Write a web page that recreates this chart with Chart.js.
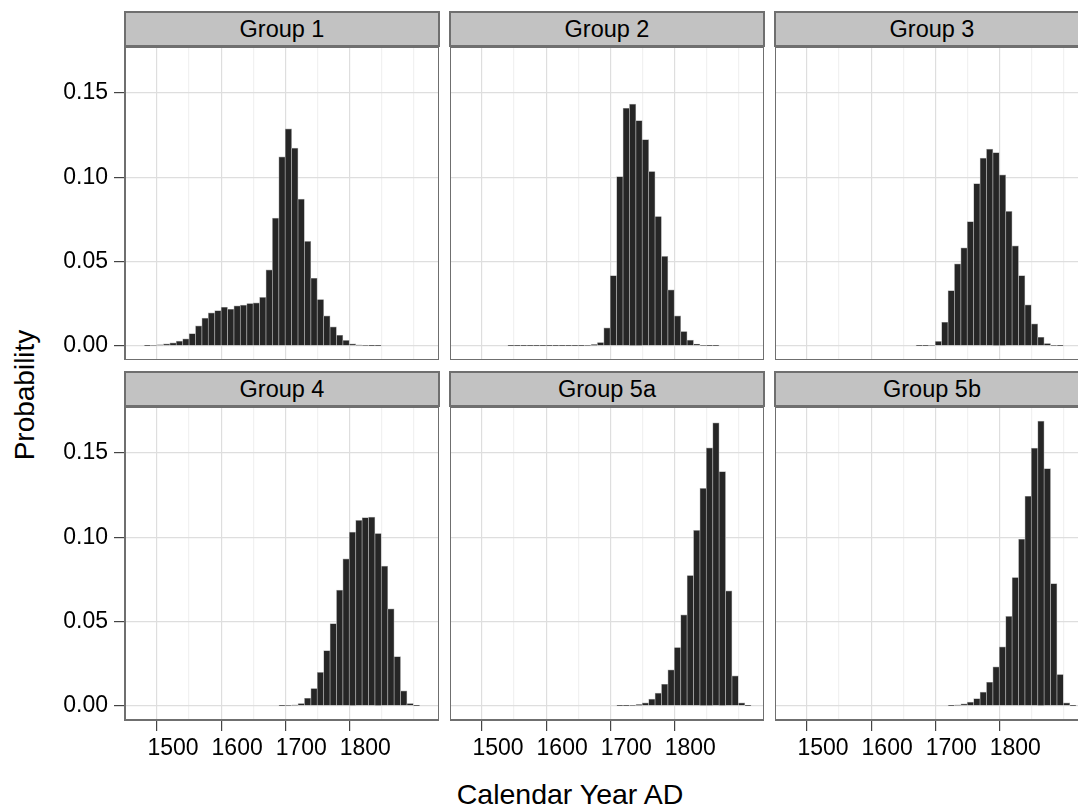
<!DOCTYPE html>
<html>
<head>
<meta charset="utf-8">
<script src="https://cdn.jsdelivr.net/npm/chart.js@4.4.0/dist/chart.umd.min.js"></script>
<style>
  body { margin: 0; width: 1078px; height: 808px; overflow: hidden; background: #fff; position: relative;
         font-family: "Liberation Sans", Arial, sans-serif; color: #000; }
  canvas { position: absolute; }
  .strip { position: absolute; height: 36px; width: 316px; box-sizing: border-box; background: #c2c2c2;
           border: 2px solid #6f6f6f; text-align: center; line-height: 32px; font-size: 23.5px; }
  .ytitle { position: absolute; left: 25px; top: 395px; transform: translate(-50%, -50%) rotate(-90deg);
            font-size: 28px; white-space: nowrap; }
  .xtitle { position: absolute; left: 570px; top: 794px; transform: translate(-50%, -50%);
            font-size: 28.5px; white-space: nowrap; }
</style>
</head>
<body>
<div class="ytitle">Probability</div>
<div class="xtitle">Calendar Year AD</div>

<script>
// bin centres (10-year bins)
const years = [1450, 1460, 1470, 1480, 1490, 1500, 1510, 1520, 1530, 1540,
               1550, 1560, 1570, 1580, 1590, 1600, 1610, 1620, 1630, 1640,
               1650, 1660, 1670, 1680, 1690, 1700, 1710, 1720, 1730, 1740,
               1750, 1760, 1770, 1780, 1790, 1800, 1810, 1820, 1830, 1840,
               1850, 1860, 1870, 1880, 1890];

const groupNames = ['Group 1', 'Group 2', 'Group 3', 'Group 4', 'Group 5a', 'Group 5b'];

const group1 = [0, 0.0001, 0.0003, 0.0006, 0.0012, 0.0018, 0.0028, 0.0041, 0.0073, 0.0119,
                0.0164, 0.0196, 0.0209, 0.0229, 0.0217, 0.0237, 0.0241, 0.0251, 0.0255, 0.0287,
                0.0451, 0.0757, 0.1121, 0.1287, 0.1172, 0.0870, 0.0619, 0.0401, 0.0275, 0.0178,
                0.0113, 0.0063, 0.0032, 0.0012, 0.0004, 0.0002, 0.0001, 0.0001, 0, 0,
                0, 0, 0, 0, 0];
const group2 = [0, 0, 0, 0, 0, 0, 0, 0.0001, 0.0001, 0.0001,
                0.0001, 0.0001, 0.0001, 0.0001, 0.0001, 0.0001, 0.0001, 0.0001, 0.0001, 0.0002,
                0.0008, 0.0020, 0.0107, 0.0417, 0.1004, 0.1409, 0.1433, 0.1336, 0.1223, 0.1034,
                0.0767, 0.0530, 0.0332, 0.0178, 0.0085, 0.0034, 0.0010, 0.0002, 0.0001, 0.0001,
                0, 0, 0, 0, 0];
const group3 = [0, 0, 0, 0, 0, 0, 0, 0, 0, 0,
                0, 0, 0, 0, 0, 0, 0, 0, 0, 0,
                0.0001, 0.0001, 0.0003, 0.0026, 0.0140, 0.0328, 0.0486, 0.0581, 0.0737, 0.0962,
                0.1113, 0.1166, 0.1146, 0.1014, 0.0798, 0.0593, 0.0417, 0.0243, 0.0130, 0.0051,
                0.0014, 0.0002, 0.0001, 0, 0];
const group4 = [0, 0, 0, 0, 0, 0, 0, 0, 0, 0,
                0, 0, 0, 0, 0, 0, 0, 0, 0, 0,
                0, 0, 0.0001, 0.0002, 0.0004, 0.0014, 0.0045, 0.0103, 0.0198, 0.0328,
                0.0488, 0.0686, 0.0872, 0.1030, 0.1100, 0.1116, 0.1119, 0.1022, 0.0828, 0.0575,
                0.0292, 0.0089, 0.0014, 0.0001, 0];
const group5a = [0, 0, 0, 0, 0, 0, 0, 0, 0, 0,
                 0, 0, 0, 0, 0, 0, 0, 0, 0, 0,
                 0, 0, 0, 0, 0.0001, 0.0001, 0.0002, 0.0008, 0.0018, 0.0040,
                 0.0075, 0.0128, 0.0213, 0.0346, 0.0540, 0.0773, 0.1040, 0.1289, 0.1530, 0.1678,
                 0.1389, 0.0682, 0.0178, 0.0018, 0.0001];
const group5b = [0, 0, 0, 0, 0, 0, 0, 0, 0, 0,
                 0, 0, 0, 0, 0, 0, 0, 0, 0, 0,
                 0, 0, 0, 0, 0, 0.0001, 0.0004, 0.0012, 0.0022, 0.0043,
                 0.0081, 0.0140, 0.0231, 0.0350, 0.0530, 0.0761, 0.0988, 0.1243, 0.1528, 0.1688,
                 0.1407, 0.0725, 0.0186, 0.0018, 0.0001];

const groupValues = [group1, group2, group3, group4, group5a, group5b];

const xLabelYears = [1500, 1600, 1700, 1800];
const xGridYears = [1450, 1500, 1550, 1600, 1650, 1700, 1750, 1800, 1850];
const yTicks = [0, 0.05, 0.10, 0.15];

const X_MIN = 1425, X_MAX = 1915;
const Y_MIN = -0.0084, Y_MAX = 0.1772;

// page layout of the facet grid
const colLeft = [125, 450, 775];
const rowTop = [47, 407];
const PANEL_W = 314, PANEL_H = 313;
const Y_AXIS_W = 100, X_AXIS_H = 48;

const panelBorder = {
    id: 'panelBorder',
    afterDraw(chart) {
        const a = chart.chartArea;
        const ctx = chart.ctx;
        ctx.save();
        ctx.strokeStyle = '#6f6f6f';
        ctx.lineWidth = 2;
        ctx.strokeRect(a.left, a.top, a.right - a.left, a.bottom - a.top);
        ctx.restore();
    }
};

function makePanel(idx) {
    const row = Math.floor(idx / 3);
    const col = idx % 3;
    const showY = col === 0;
    const showX = row === 1;

    const strip = document.createElement('div');
    strip.className = 'strip';
    strip.style.left = (colLeft[col] - 1) + 'px';
    strip.style.top = (rowTop[row] - 36) + 'px';
    strip.textContent = groupNames[idx];
    document.body.appendChild(strip);

    const canvas = document.createElement('canvas');
    const w = PANEL_W + (showY ? Y_AXIS_W : 0);
    const h = PANEL_H + (showX ? X_AXIS_H : 0);
    canvas.width = w;
    canvas.height = h;
    canvas.style.left = (colLeft[col] - (showY ? Y_AXIS_W : 0)) + 'px';
    canvas.style.top = rowTop[row] + 'px';
    document.body.appendChild(canvas);

    const values = groupValues[idx];
    const points = years.map((yr, i) => ({ x: yr, y: values[i] }));

    new Chart(canvas.getContext('2d'), {
        type: 'bar',
        data: {
            datasets: [{
                data: points,
                backgroundColor: '#262626',
                borderColor: '#a8a8a8',
                borderWidth: 0.7,
                barPercentage: 1,
                categoryPercentage: 1
            }]
        },
        options: {
            responsive: false,
            animation: false,
            layout: { padding: 0 },
            plugins: { legend: { display: false }, tooltip: { enabled: false } },
            scales: {
                x: {
                    type: 'linear',
                    min: X_MIN,
                    max: X_MAX,
                    offset: false,
                    afterBuildTicks: s => { s.ticks = xGridYears.map(v => ({ value: v })); },
                    afterFit: s => {
                        s.height = showX ? X_AXIS_H : 0;
                        s.paddingLeft = 0;
                        s.paddingRight = 0;
                    },
                    border: { display: false },
                    grid: {
                        color: ctx => ctx.tick && xLabelYears.includes(ctx.tick.value) ? '#dedede' : '#f1f1f1',
                        lineWidth: 1.2,
                        drawTicks: showX,
                        tickLength: showX ? 11 : 0,
                        tickColor: ctx => ctx.tick && xLabelYears.includes(ctx.tick.value) ? '#444' : 'rgba(0,0,0,0)',
                        tickWidth: 1.2
                    },
                    ticks: {
                        display: showX,
                        autoSkip: false,
                        maxRotation: 0,
                        padding: 4,
                        color: '#000',
                        font: { family: '"Liberation Sans", Arial, sans-serif', size: 23 },
                        callback: v => xLabelYears.includes(v) ? String(v) : ''
                    }
                },
                y: {
                    min: Y_MIN,
                    max: Y_MAX,
                    afterBuildTicks: s => { s.ticks = yTicks.map(v => ({ value: v })); },
                    afterFit: s => {
                        s.width = showY ? Y_AXIS_W : 0;
                        s.paddingTop = 0;
                        s.paddingBottom = 0;
                    },
                    border: { display: false },
                    grid: {
                        color: '#dedede',
                        lineWidth: 1.2,
                        drawTicks: showY,
                        tickLength: showY ? 11 : 0,
                        tickColor: '#444',
                        tickWidth: 1.2
                    },
                    ticks: {
                        display: showY,
                        padding: 6,
                        color: '#000',
                        font: { family: '"Liberation Sans", Arial, sans-serif', size: 23 },
                        callback: v => v.toFixed(2)
                    }
                }
            }
        },
        plugins: [panelBorder]
    });
}

for (let i = 0; i < groupNames.length; i++) {
    makePanel(i);
}
</script>
</body>
</html>
